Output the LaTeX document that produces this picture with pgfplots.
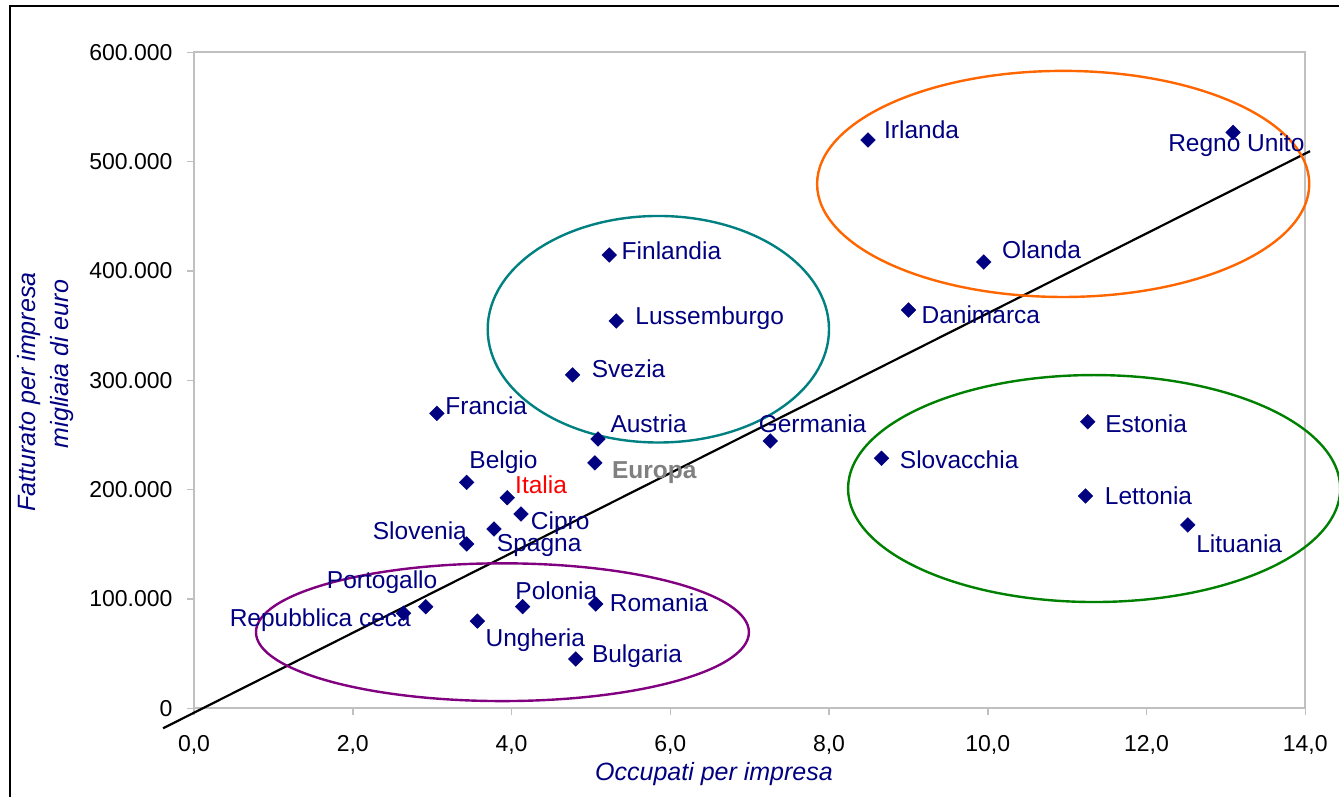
\documentclass[border=0pt]{standalone}
\usepackage{pgfplots}
\usepackage{pgfplotstable}
\pgfplotsset{compat=1.18}
\usepackage{fontspec}
\setmainfont{Liberation Sans}
\definecolor{navy}{RGB}{0,0,128}
\definecolor{axgray}{RGB}{192,192,192}
\definecolor{ellorange}{RGB}{255,102,0}
\definecolor{ellteal}{RGB}{0,128,128}
\definecolor{ellgreen}{RGB}{0,128,0}
\definecolor{ellpurple}{RGB}{128,0,128}
\definecolor{eurogray}{RGB}{128,128,128}
\newcommand\lblfont{\fontsize{24.5}{28}\selectfont}
\newcommand\tckfont{\fontsize{23}{27}\selectfont}
\newcommand\ttlfont{\fontsize{25}{29}\selectfont}

% x = occupati per impresa, y = fatturato per impresa (euro)
% dx, dy = offset (pt) of the label's left end of baseline from the marker
\pgfplotstableread[col sep=comma,row sep=\\]{
x,y,dx,dy,lbl\\
8.49,519800,16,1,Irlanda\\
13.09,526800,-65,-19.4,Regno Unito\\
9.95,408200,18,3,Olanda\\
9.00,364300,13,-14,Danimarca\\
5.23,414600,12.4,-5,Finlandia\\
5.32,354200,19,-3,Lussemburgo\\
4.77,304900,19,-2.7,Svezia\\
3.06,269800,8.3,-0.7,Francia\\
5.09,246300,12.3,6.7,Austria\\
7.26,244500,-11.7,8.7,Germania\\
3.435,206700,2.6,14,Belgio\\
4.12,177700,9.7,-15.3,Cipro\\
3.78,164000,2.7,-22.7,Spagna\\
3.435,150300,-94,4,Slovenia\\
2.92,92900,-99,18.4,Portogallo\\
2.64,86900,-174,-13.4,Repubblica ceca\\
3.57,79800,8,-25.7,Ungheria\\
4.14,92900,-7.4,7.4,Polonia\\
5.06,95400,14,-8,Romania\\
4.81,45100,16,-3.7,Bulgaria\\
11.26,262100,17.3,-11,Estonia\\
8.66,228700,18.3,-10,Slovacchia\\
11.23,194200,19.3,-9,Lettonia\\
12.52,167700,8.3,-27.3,Lituania\\
}\paesi

\pgfplotstableread[col sep=comma,row sep=\\]{
x,y,dx,dy,lbl\\
3.947,192600,7.7,4.4,Italia\\
}\italia

\pgfplotstableread[col sep=comma,row sep=\\]{
x,y,dx,dy,lbl\\
5.05,224400,17,-16,Europa\\
}\europa

% trend line end points
\pgfplotstableread[col sep=comma,row sep=\\]{
x,y\\
-0.39,-18300\\
14.06,509600\\
}\trend

\pgfplotsset{
  paese/.style={
    only marks, mark=square*, mark size=5.2pt,
    mark options={rotate=45, fill=navy, draw=navy},
    point meta=explicit symbolic,
    visualization depends on={\thisrow{dx} \as \dx},
    visualization depends on={\thisrow{dy} \as \dy},
    nodes near coords,
    every node near coord/.append style={anchor=base west, xshift=\dx pt, yshift=\dy pt,
      font=\lblfont, text=navy, inner sep=0pt},
  },
}

\begin{document}
\begin{tikzpicture}[x=1pt,y=1pt]
\useasboundingbox (-194,-88.7) rectangle (1145,708.3);
\begin{axis}[
  at={(0,0)}, anchor=south west,
  scale only axis, width=1111.3pt, height=656pt,
  xmin=0, xmax=14, ymin=0, ymax=600000,
  clip=false,
  axis line style={axgray, line width=2pt},
  tick style={axgray, line width=1.5pt},
  tick align=outside, major tick length=7pt,
  tick pos=left,
  xtick={0,2,...,14}, ytick={0,100000,...,600000},
  scaled y ticks=false,
  tick label style={font=\tckfont, text=black},
  x tick label style={yshift=-17pt, /pgf/number format/.cd, fixed, fixed zerofill, precision=1, use comma, assume math mode=true},
  y tick label style={xshift=-11pt, /pgf/number format/.cd, fixed, precision=0, 1000 sep={.}, assume math mode=true},
]
\addplot[black, line width=2.2pt, no marks] table[x=x,y=y] {\trend};

\draw[ellorange, line width=2.4pt] (axis cs:10.95,479600) ellipse [x radius=3.10, y radius=103400];
\draw[ellteal, line width=2.4pt] (axis cs:5.85,346700) ellipse [x radius=2.15, y radius=103600];
\draw[ellgreen, line width=2.4pt] (axis cs:11.34,201000) ellipse [x radius=3.10, y radius=103800];
\draw[ellpurple, line width=2.4pt] (axis cs:3.886,69600) ellipse [x radius=3.105, y radius=63000];

\addplot[paese] table[x=x,y=y,meta=lbl] {\paesi};
\addplot[paese, every node near coord/.append style={text=red}] table[x=x,y=y,meta=lbl] {\italia};
\addplot[paese, every node near coord/.append style={text=eurogray, font=\lblfont\bfseries}] table[x=x,y=y,meta=lbl] {\europa};
\end{axis}
% axis titles
\node[anchor=base, font=\ttlfont\itshape, text=navy] at (520,-72) {Occupati per impresa};
\node[rotate=90, anchor=base, font=\ttlfont\itshape, text=navy] at (-158,316.3) {Fatturato per impresa};
\node[rotate=90, anchor=base, font=\ttlfont\itshape, text=navy] at (-125,344.3) {migliaia di euro};
% outer frame
\draw[black, line width=1.5pt] (-184,-100) -- (-184,702.3) -- (1160,702.3);
\end{tikzpicture}
\end{document}
